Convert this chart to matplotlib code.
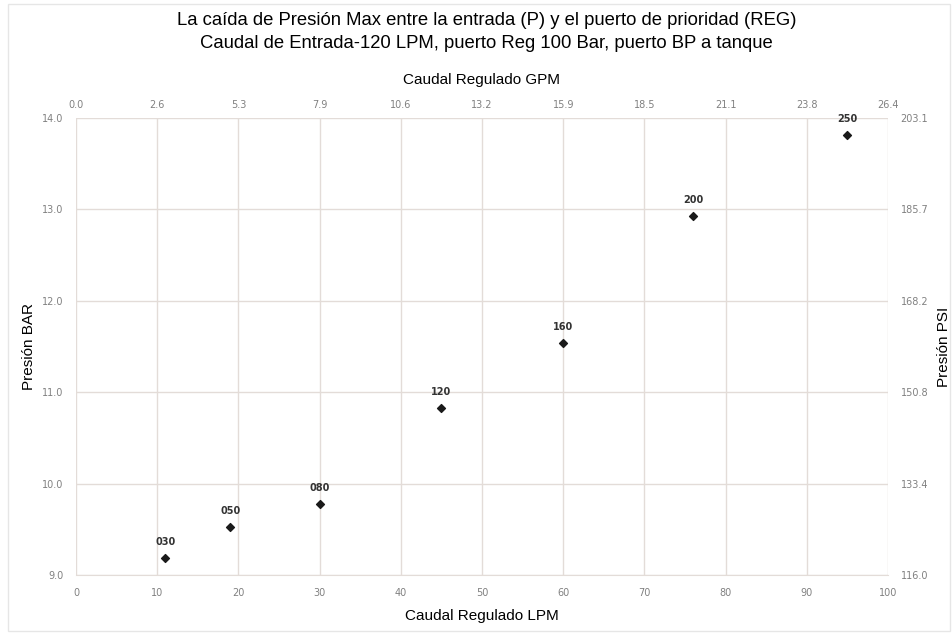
import matplotlib.pyplot as plt
from matplotlib.patches import Rectangle

# data
caudal_lpm = [11, 19, 30, 45, 60, 76, 95]
presion_bar = [9.19, 9.53, 9.78, 10.83, 11.54, 12.93, 13.81]
etiquetas = ['030', '050', '080', '120', '160', '200', '250']

lpm_ticks = [0, 10, 20, 30, 40, 50, 60, 70, 80, 90, 100]
gpm_labels = ['0.0', '2.6', '5.3', '7.9', '10.6', '13.2', '15.9', '18.5', '21.1', '23.8', '26.4']
bar_ticks = [9, 10, 11, 12, 13, 14]
bar_labels = ['9.0', '10.0', '11.0', '12.0', '13.0', '14.0']
psi_labels = ['116.0', '133.4', '150.8', '168.2', '185.7', '203.1']

grid_col = '#e3dcd8'
tick_col = '#808080'
plt.rcParams['font.family'] = ['Liberation Sans', 'DejaVu Sans']

fig = plt.figure(figsize=(9.52, 6.33), dpi=100)
ax = fig.add_axes([0.0798, 0.0915, 0.853, 0.722])

ax.scatter(caudal_lpm, presion_bar, marker='D', s=16, color='#1a1a1a', zorder=3)
for x, y, t in zip(caudal_lpm, presion_bar, etiquetas):
    ax.annotate(t, (x, y), xytext=(0, 8), textcoords='offset points', ha='center', va='bottom',
                fontsize=7, color='#333333', family='DejaVu Sans', weight='semibold')

ax.set_xlim(0, 100)
ax.set_ylim(9, 14)
ax.set_xticks(lpm_ticks)
ax.set_xticklabels([str(v) for v in lpm_ticks])
ax.set_yticks(bar_ticks)
ax.set_yticklabels(bar_labels)
ax.grid(True, color=grid_col, linewidth=1)
ax.set_axisbelow(True)
for s in ax.spines.values():
    s.set_visible(False)
ax.spines['bottom'].set_visible(True)
ax.spines['bottom'].set_color(grid_col)
ax.tick_params(length=0, labelsize=7, labelcolor=tick_col, pad=9)
for lab in ax.get_xticklabels() + ax.get_yticklabels():
    lab.set_family('DejaVu Sans')
ax.set_xlabel('Caudal Regulado LPM', fontsize=11, labelpad=8)
ax.set_ylabel('Presión BAR', fontsize=11, labelpad=4)

# top axis (GPM)
axt = ax.twiny()
axt.set_xlim(0, 100)
axt.set_xticks(lpm_ticks)
axt.set_xticklabels(gpm_labels)
axt.tick_params(length=0, labelsize=7, labelcolor=tick_col, pad=6)
for lab in axt.get_xticklabels():
    lab.set_family('DejaVu Sans')
axt.set_xlabel('Caudal Regulado GPM', fontsize=11, labelpad=11)
for s in axt.spines.values():
    s.set_visible(False)

# right axis (PSI)
axr = ax.twinx()
axr.set_ylim(9, 14)
axr.set_yticks(bar_ticks)
axr.set_yticklabels(psi_labels)
axr.tick_params(length=0, labelsize=7, labelcolor=tick_col, pad=9)
for lab in axr.get_yticklabels():
    lab.set_family('DejaVu Sans')
axr.set_ylabel('Presión PSI', fontsize=11, labelpad=6)
for s in axr.spines.values():
    s.set_visible(False)

fig.text(0.511, 0.968, 'La caída de Presión Max entre la entrada (P) y el puerto de prioridad (REG)',
         ha='center', va='center', fontsize=13.3)
fig.text(0.511, 0.932, 'Caudal de Entrada-120 LPM, puerto Reg 100 Bar, puerto BP a tanque',
         ha='center', va='center', fontsize=13.3)

fig.patches.append(Rectangle((0.008, 0.003), 0.99, 0.99, transform=fig.transFigure,
                             fill=False, edgecolor='#e6e6e6', linewidth=1))

fig.savefig('out.png', dpi=100)
